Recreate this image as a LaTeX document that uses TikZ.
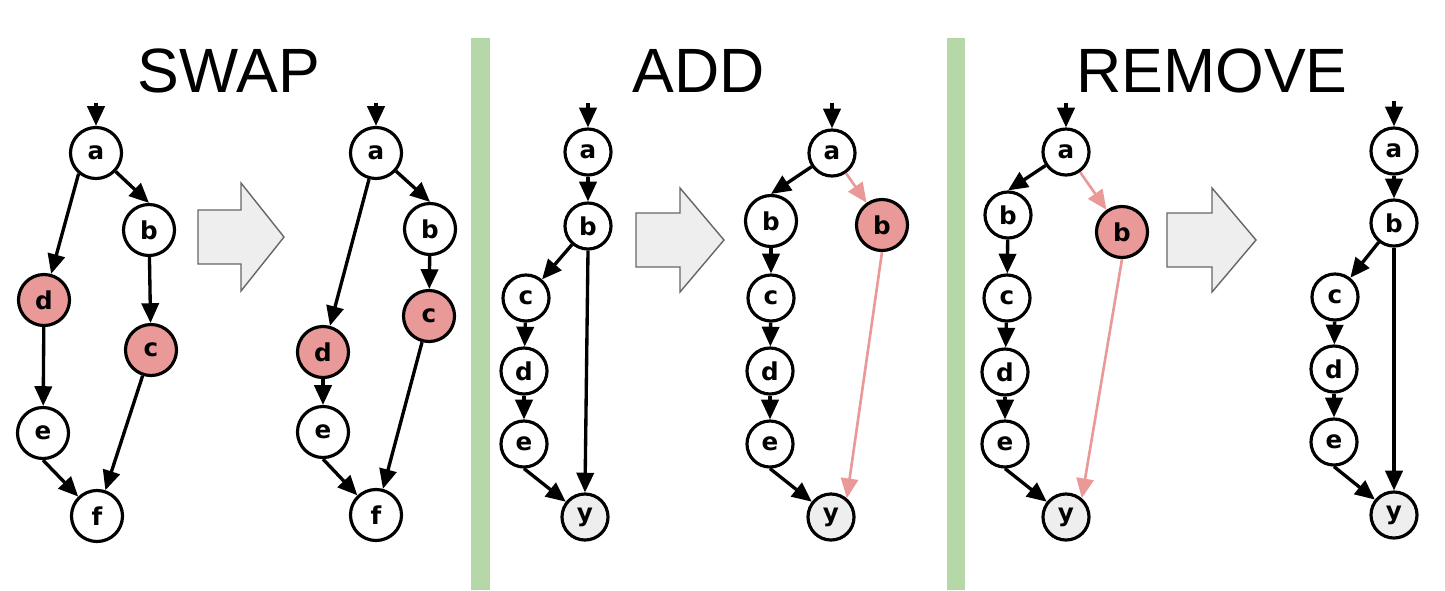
\documentclass[tikz,border=0pt]{standalone}
\usepackage{fontspec}
\setmainfont{Liberation Sans}
\newfontfamily\lblfont{DejaVu Sans}
\usepackage{tikz}
\usetikzlibrary{arrows.meta}
\definecolor{hotpink}{HTML}{EA9999}
\definecolor{nodegray}{HTML}{EEEEEE}
\definecolor{bargreen}{HTML}{B6D7A8}
\tikzset{
  font={\fontsize{7pt}{9}\selectfont}}

\begin{document}
\begin{tikzpicture}[x=0.01cm,y=0.01cm]
\tikzstyle{every node}+=[inner sep=0pt]
\tikzstyle{vert}=[circle,draw=black,line width=0.9pt,fill=white,minimum size=0.46cm,font={\lblfont\bfseries\fontsize{7pt}{9}\selectfont}]
\tikzstyle{big}=[minimum size=0.51cm]
\tikzstyle{hot}=[fill=hotpink]
\tikzstyle{sink}=[fill=nodegray]
\tikzstyle{edge}=[draw=black,line width=0.95pt,-{Triangle[length=5.6pt,width=4.9pt]}]
\tikzstyle{newedge}=[draw=hotpink,line width=0.75pt,-{Triangle[length=5.6pt,width=4.9pt]}]
\tikzstyle{title}=[font={\fontsize{17.8pt}{20}\selectfont}]
\tikzstyle{bigarrow}=[draw=black!60,fill=nodegray,line width=0.4pt,line join=miter]
\useasboundingbox (0,0) rectangle (1445,-590);
\fill [bargreen] (471,-38) rectangle (490,-590);
\fill [bargreen] (947,-38) rectangle (965,-590);
\node [title,anchor=base] (swaptitle) at (229,-92) {SWAP};
\node [title,anchor=base] (addtitle) at (699,-92) {ADD};
\node [title,anchor=base] (removetitle) at (1212,-92) {REMOVE};
\draw [bigarrow] (198,-210) -- (241,-210) -- (241,-183) -- (284,-237) -- (241,-291) -- (241,-264) -- (198,-264) -- cycle;
\draw [bigarrow] (636,-213) -- (680,-213) -- (680,-188) -- (724,-240) -- (680,-292) -- (680,-267) -- (636,-267) -- cycle;
\draw [bigarrow] (1167,-213) -- (1212,-213) -- (1212,-188) -- (1256,-240) -- (1212,-292) -- (1212,-267) -- (1167,-267) -- cycle;
\coordinate (s1in) at (96,-103);
\node [vert,big] (s1a) at (96,-153) {a};
\node [vert,big] (s1b) at (149,-230) {b};
\node [vert,big,hot] (s1d) at (44,-300) {d};
\node [vert,big,hot] (s1c) at (151,-350) {c};
\node [vert,big] (s1e) at (43,-433) {e};
\node [vert,big] (s1f) at (97,-516) {f};
\draw [edge] (s1in) -- (s1a);
\draw [edge] (s1a) -- (s1b.north);
\draw [edge] (s1a.230) -- (s1d);
\draw [edge] (s1b) -- (s1c);
\draw [edge] (s1d) -- (s1e);
\draw [edge] (s1c) -- (s1f);
\draw [edge] (s1e.south) -- (s1f);
\coordinate (s2in) at (376,-103);
\node [vert,big] (s2a) at (376,-153) {a};
\node [vert,big] (s2b) at (430,-229) {b};
\node [vert,big,hot] (s2c) at (429,-316) {c};
\node [vert,big,hot] (s2d) at (323,-352) {d};
\node [vert,big] (s2e) at (323,-432) {e};
\node [vert,big] (s2f) at (376,-515) {f};
\draw [edge] (s2in) -- (s2a);
\draw [edge] (s2a) -- (s2b.north);
\draw [edge] (s2a) -- (s2d);
\draw [edge] (s2b) -- (s2c);
\draw [edge] (s2d) -- (s2e);
\draw [edge] (s2c) -- (s2f);
\draw [edge] (s2e.south) -- (s2f);
\coordinate (a1in) at (588,-103);
\node [vert] (a1a) at (588,-152) {a};
\node [vert] (a1b) at (588,-226) {b};
\node [vert] (a1c) at (526,-298) {c};
\node [vert] (a1d) at (524,-371) {d};
\node [vert] (a1e) at (524,-444) {e};
\node [vert,sink] (a1y) at (585,-517) {y};
\draw [edge] (a1in) -- (a1a);
\draw [edge] (a1a) -- (a1b);
\draw [edge] (a1b) -- (a1c);
\draw [edge] (a1c) -- (a1d);
\draw [edge] (a1d) -- (a1e);
\draw [edge] (a1e.south) -- (a1y);
\draw [edge] (a1b.south) -- (a1y.north);
\coordinate (a2in) at (832,-103);
\node [vert] (a2a) at (832,-153) {a};
\node [vert,big] (a2b) at (771,-221) {b};
\node [vert,big,hot] (a2p) at (882,-225) {b};
\node [vert] (a2c) at (771,-298) {c};
\node [vert] (a2d) at (770,-371) {d};
\node [vert] (a2e) at (770,-444) {e};
\node [vert,sink] (a2y) at (831,-517) {y};
\draw [edge] (a2in) -- (a2a);
\draw [edge] (a2a) -- (a2b.north);
\draw [newedge] (a2a) -- (a2p);
\draw [edge] (a2b) -- (a2c);
\draw [edge] (a2c) -- (a2d);
\draw [edge] (a2d) -- (a2e);
\draw [edge] (a2e.south) -- (a2y);
\draw [newedge] (a2p.south) -- (a2y.50);
\coordinate (r1in) at (1066,-103);
\node [vert] (r1a) at (1066,-152) {a};
\node [vert] (r1b) at (1008,-215) {b};
\node [vert,big,hot] (r1p) at (1122,-232) {b};
\node [vert] (r1c) at (1007,-298) {c};
\node [vert] (r1d) at (1005,-372) {d};
\node [vert] (r1e) at (1005,-444) {e};
\node [vert,sink] (r1y) at (1066,-517) {y};
\draw [edge] (r1in) -- (r1a);
\draw [edge] (r1a) -- (r1b.north);
\draw [newedge] (r1a) -- (r1p);
\draw [edge] (r1b) -- (r1c);
\draw [edge] (r1c) -- (r1d);
\draw [edge] (r1d) -- (r1e);
\draw [edge] (r1e.south) -- (r1y);
\draw [newedge] (r1p.south) -- (r1y.50);
\coordinate (r2in) at (1394,-101);
\node [vert] (r2a) at (1394,-151) {a};
\node [vert] (r2b) at (1394,-223) {b};
\node [vert] (r2c) at (1335,-297) {c};
\node [vert] (r2d) at (1334,-369) {d};
\node [vert] (r2e) at (1334,-442) {e};
\node [vert,sink] (r2y) at (1394,-515) {y};
\draw [edge] (r2in) -- (r2a);
\draw [edge] (r2a) -- (r2b);
\draw [edge] (r2b) -- (r2c);
\draw [edge] (r2c) -- (r2d);
\draw [edge] (r2d) -- (r2e);
\draw [edge] (r2e.south) -- (r2y);
\draw [edge] (r2b.south) -- (r2y.north);
\end{tikzpicture}
\end{document}
